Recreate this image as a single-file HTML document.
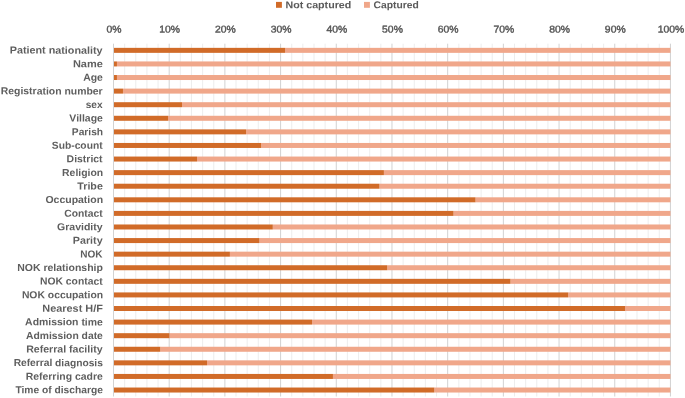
<!DOCTYPE html><html><head><meta charset="utf-8"><title>chart</title><style>html,body{margin:0;padding:0;background:#fff}svg{display:block}text{font-family:"Liberation Sans",sans-serif;text-rendering:geometricPrecision}</style></head><body>
<svg width="685" height="398" viewBox="0 0 685 398">
<rect width="685" height="398" fill="#fff"/>
<line x1="124.64" y1="43.7" x2="124.64" y2="396.5" stroke="#e9e9e9" stroke-width="0.8"/>
<line x1="135.78" y1="43.7" x2="135.78" y2="396.5" stroke="#e9e9e9" stroke-width="0.8"/>
<line x1="146.92" y1="43.7" x2="146.92" y2="396.5" stroke="#e9e9e9" stroke-width="0.8"/>
<line x1="158.06" y1="43.7" x2="158.06" y2="396.5" stroke="#e9e9e9" stroke-width="0.8"/>
<line x1="180.33" y1="43.7" x2="180.33" y2="396.5" stroke="#e9e9e9" stroke-width="0.8"/>
<line x1="191.47" y1="43.7" x2="191.47" y2="396.5" stroke="#e9e9e9" stroke-width="0.8"/>
<line x1="202.61" y1="43.7" x2="202.61" y2="396.5" stroke="#e9e9e9" stroke-width="0.8"/>
<line x1="213.75" y1="43.7" x2="213.75" y2="396.5" stroke="#e9e9e9" stroke-width="0.8"/>
<line x1="236.03" y1="43.7" x2="236.03" y2="396.5" stroke="#e9e9e9" stroke-width="0.8"/>
<line x1="247.17" y1="43.7" x2="247.17" y2="396.5" stroke="#e9e9e9" stroke-width="0.8"/>
<line x1="258.31" y1="43.7" x2="258.31" y2="396.5" stroke="#e9e9e9" stroke-width="0.8"/>
<line x1="269.45" y1="43.7" x2="269.45" y2="396.5" stroke="#e9e9e9" stroke-width="0.8"/>
<line x1="291.72" y1="43.7" x2="291.72" y2="396.5" stroke="#e9e9e9" stroke-width="0.8"/>
<line x1="302.86" y1="43.7" x2="302.86" y2="396.5" stroke="#e9e9e9" stroke-width="0.8"/>
<line x1="314.00" y1="43.7" x2="314.00" y2="396.5" stroke="#e9e9e9" stroke-width="0.8"/>
<line x1="325.14" y1="43.7" x2="325.14" y2="396.5" stroke="#e9e9e9" stroke-width="0.8"/>
<line x1="347.42" y1="43.7" x2="347.42" y2="396.5" stroke="#e9e9e9" stroke-width="0.8"/>
<line x1="358.56" y1="43.7" x2="358.56" y2="396.5" stroke="#e9e9e9" stroke-width="0.8"/>
<line x1="369.70" y1="43.7" x2="369.70" y2="396.5" stroke="#e9e9e9" stroke-width="0.8"/>
<line x1="380.84" y1="43.7" x2="380.84" y2="396.5" stroke="#e9e9e9" stroke-width="0.8"/>
<line x1="403.11" y1="43.7" x2="403.11" y2="396.5" stroke="#e9e9e9" stroke-width="0.8"/>
<line x1="414.25" y1="43.7" x2="414.25" y2="396.5" stroke="#e9e9e9" stroke-width="0.8"/>
<line x1="425.39" y1="43.7" x2="425.39" y2="396.5" stroke="#e9e9e9" stroke-width="0.8"/>
<line x1="436.53" y1="43.7" x2="436.53" y2="396.5" stroke="#e9e9e9" stroke-width="0.8"/>
<line x1="458.81" y1="43.7" x2="458.81" y2="396.5" stroke="#e9e9e9" stroke-width="0.8"/>
<line x1="469.95" y1="43.7" x2="469.95" y2="396.5" stroke="#e9e9e9" stroke-width="0.8"/>
<line x1="481.09" y1="43.7" x2="481.09" y2="396.5" stroke="#e9e9e9" stroke-width="0.8"/>
<line x1="492.23" y1="43.7" x2="492.23" y2="396.5" stroke="#e9e9e9" stroke-width="0.8"/>
<line x1="514.50" y1="43.7" x2="514.50" y2="396.5" stroke="#e9e9e9" stroke-width="0.8"/>
<line x1="525.64" y1="43.7" x2="525.64" y2="396.5" stroke="#e9e9e9" stroke-width="0.8"/>
<line x1="536.78" y1="43.7" x2="536.78" y2="396.5" stroke="#e9e9e9" stroke-width="0.8"/>
<line x1="547.92" y1="43.7" x2="547.92" y2="396.5" stroke="#e9e9e9" stroke-width="0.8"/>
<line x1="570.20" y1="43.7" x2="570.20" y2="396.5" stroke="#e9e9e9" stroke-width="0.8"/>
<line x1="581.34" y1="43.7" x2="581.34" y2="396.5" stroke="#e9e9e9" stroke-width="0.8"/>
<line x1="592.48" y1="43.7" x2="592.48" y2="396.5" stroke="#e9e9e9" stroke-width="0.8"/>
<line x1="603.62" y1="43.7" x2="603.62" y2="396.5" stroke="#e9e9e9" stroke-width="0.8"/>
<line x1="625.89" y1="43.7" x2="625.89" y2="396.5" stroke="#e9e9e9" stroke-width="0.8"/>
<line x1="637.03" y1="43.7" x2="637.03" y2="396.5" stroke="#e9e9e9" stroke-width="0.8"/>
<line x1="648.17" y1="43.7" x2="648.17" y2="396.5" stroke="#e9e9e9" stroke-width="0.8"/>
<line x1="659.31" y1="43.7" x2="659.31" y2="396.5" stroke="#e9e9e9" stroke-width="0.8"/>
<line x1="113.50" y1="43.7" x2="113.50" y2="396.5" stroke="#c6c6c6" stroke-width="0.8"/>
<line x1="169.19" y1="43.7" x2="169.19" y2="396.5" stroke="#c6c6c6" stroke-width="0.8"/>
<line x1="224.89" y1="43.7" x2="224.89" y2="396.5" stroke="#c6c6c6" stroke-width="0.8"/>
<line x1="280.59" y1="43.7" x2="280.59" y2="396.5" stroke="#c6c6c6" stroke-width="0.8"/>
<line x1="336.28" y1="43.7" x2="336.28" y2="396.5" stroke="#c6c6c6" stroke-width="0.8"/>
<line x1="391.98" y1="43.7" x2="391.98" y2="396.5" stroke="#c6c6c6" stroke-width="0.8"/>
<line x1="447.67" y1="43.7" x2="447.67" y2="396.5" stroke="#c6c6c6" stroke-width="0.8"/>
<line x1="503.37" y1="43.7" x2="503.37" y2="396.5" stroke="#c6c6c6" stroke-width="0.8"/>
<line x1="559.06" y1="43.7" x2="559.06" y2="396.5" stroke="#c6c6c6" stroke-width="0.8"/>
<line x1="614.75" y1="43.7" x2="614.75" y2="396.5" stroke="#c6c6c6" stroke-width="0.8"/>
<line x1="670.45" y1="43.7" x2="670.45" y2="396.5" stroke="#c6c6c6" stroke-width="0.8"/>
<rect x="285.04" y="47.85" width="385.41" height="5.0" fill="#f0a78a"/>
<rect x="114.00" y="47.85" width="171.04" height="5.0" fill="#d16b28"/>
<text transform="translate(102.60,53.65) scale(1.0577,1) rotate(0.03)" text-anchor="end" font-size="10.2" font-weight="bold" fill="#5e5e5e">Patient nationality</text>
<rect x="116.95" y="61.44" width="553.50" height="5.0" fill="#f0a78a"/>
<rect x="114.00" y="61.44" width="2.95" height="5.0" fill="#d16b28"/>
<text transform="translate(102.85,67.24) scale(1.0783,1) rotate(0.03)" text-anchor="end" font-size="10.2" font-weight="bold" fill="#5e5e5e">Name</text>
<rect x="116.95" y="75.02" width="553.50" height="5.0" fill="#f0a78a"/>
<rect x="114.00" y="75.02" width="2.95" height="5.0" fill="#d16b28"/>
<text transform="translate(102.85,80.82) scale(1.0238,1) rotate(0.03)" text-anchor="end" font-size="10.2" font-weight="bold" fill="#5e5e5e">Age</text>
<rect x="122.97" y="88.61" width="547.48" height="5.0" fill="#f0a78a"/>
<rect x="114.00" y="88.61" width="8.97" height="5.0" fill="#d16b28"/>
<text transform="translate(102.60,94.41) scale(1.0224,1) rotate(0.03)" text-anchor="end" font-size="10.2" font-weight="bold" fill="#5e5e5e">Registration number</text>
<rect x="182.00" y="102.20" width="488.45" height="5.0" fill="#f0a78a"/>
<rect x="114.00" y="102.20" width="68.00" height="5.0" fill="#d16b28"/>
<text transform="translate(102.60,108.00) scale(0.9947,1) rotate(0.03)" text-anchor="end" font-size="10.2" font-weight="bold" fill="#5e5e5e">sex</text>
<rect x="168.08" y="115.78" width="502.37" height="5.0" fill="#f0a78a"/>
<rect x="114.00" y="115.78" width="54.08" height="5.0" fill="#d16b28"/>
<text transform="translate(102.85,121.58) scale(1.0249,1) rotate(0.03)" text-anchor="end" font-size="10.2" font-weight="bold" fill="#5e5e5e">Village</text>
<rect x="246.05" y="129.37" width="424.40" height="5.0" fill="#f0a78a"/>
<rect x="114.00" y="129.37" width="132.05" height="5.0" fill="#d16b28"/>
<text transform="translate(103.10,135.17) scale(1.0028,1) rotate(0.03)" text-anchor="end" font-size="10.2" font-weight="bold" fill="#5e5e5e">Parish</text>
<rect x="261.09" y="142.96" width="409.36" height="5.0" fill="#f0a78a"/>
<rect x="114.00" y="142.96" width="147.09" height="5.0" fill="#d16b28"/>
<text transform="translate(102.60,148.76) scale(1.0074,1) rotate(0.03)" text-anchor="end" font-size="10.2" font-weight="bold" fill="#5e5e5e">Sub-count</text>
<rect x="197.04" y="156.55" width="473.41" height="5.0" fill="#f0a78a"/>
<rect x="114.00" y="156.55" width="83.04" height="5.0" fill="#d16b28"/>
<text transform="translate(102.60,162.35) scale(1.0247,1) rotate(0.03)" text-anchor="end" font-size="10.2" font-weight="bold" fill="#5e5e5e">District</text>
<rect x="383.90" y="170.13" width="286.55" height="5.0" fill="#f0a78a"/>
<rect x="114.00" y="170.13" width="269.90" height="5.0" fill="#d16b28"/>
<text transform="translate(103.10,175.93) scale(1.0199,1) rotate(0.03)" text-anchor="end" font-size="10.2" font-weight="bold" fill="#5e5e5e">Religion</text>
<rect x="379.44" y="183.72" width="291.01" height="5.0" fill="#f0a78a"/>
<rect x="114.00" y="183.72" width="265.44" height="5.0" fill="#d16b28"/>
<text transform="translate(102.85,189.52) scale(1.0490,1) rotate(0.03)" text-anchor="end" font-size="10.2" font-weight="bold" fill="#5e5e5e">Tribe</text>
<rect x="475.52" y="197.31" width="194.93" height="5.0" fill="#f0a78a"/>
<rect x="114.00" y="197.31" width="361.52" height="5.0" fill="#d16b28"/>
<text transform="translate(103.10,203.11) scale(1.0295,1) rotate(0.03)" text-anchor="end" font-size="10.2" font-weight="bold" fill="#5e5e5e">Occupation</text>
<rect x="453.52" y="210.89" width="216.93" height="5.0" fill="#f0a78a"/>
<rect x="114.00" y="210.89" width="339.52" height="5.0" fill="#d16b28"/>
<text transform="translate(102.60,216.69) scale(1.0129,1) rotate(0.03)" text-anchor="end" font-size="10.2" font-weight="bold" fill="#5e5e5e">Contact</text>
<rect x="272.79" y="224.48" width="397.66" height="5.0" fill="#f0a78a"/>
<rect x="114.00" y="224.48" width="158.79" height="5.0" fill="#d16b28"/>
<text transform="translate(102.60,230.28) scale(1.0311,1) rotate(0.03)" text-anchor="end" font-size="10.2" font-weight="bold" fill="#5e5e5e">Gravidity</text>
<rect x="259.42" y="238.07" width="411.03" height="5.0" fill="#f0a78a"/>
<rect x="114.00" y="238.07" width="145.42" height="5.0" fill="#d16b28"/>
<text transform="translate(102.60,243.87) scale(1.0518,1) rotate(0.03)" text-anchor="end" font-size="10.2" font-weight="bold" fill="#5e5e5e">Parity</text>
<rect x="229.90" y="251.66" width="440.55" height="5.0" fill="#f0a78a"/>
<rect x="114.00" y="251.66" width="115.90" height="5.0" fill="#d16b28"/>
<text transform="translate(102.60,257.45) scale(0.9841,1) rotate(0.03)" text-anchor="end" font-size="10.2" font-weight="bold" fill="#5e5e5e">NOK</text>
<rect x="387.24" y="265.24" width="283.21" height="5.0" fill="#f0a78a"/>
<rect x="114.00" y="265.24" width="273.24" height="5.0" fill="#d16b28"/>
<text transform="translate(102.85,271.04) scale(1.0284,1) rotate(0.03)" text-anchor="end" font-size="10.2" font-weight="bold" fill="#5e5e5e">NOK relationship</text>
<rect x="510.49" y="278.83" width="159.96" height="5.0" fill="#f0a78a"/>
<rect x="114.00" y="278.83" width="396.49" height="5.0" fill="#d16b28"/>
<text transform="translate(102.60,284.63) scale(1.0141,1) rotate(0.03)" text-anchor="end" font-size="10.2" font-weight="bold" fill="#5e5e5e">NOK contact</text>
<rect x="568.25" y="292.42" width="102.20" height="5.0" fill="#f0a78a"/>
<rect x="114.00" y="292.42" width="454.25" height="5.0" fill="#d16b28"/>
<text transform="translate(103.10,298.22) scale(1.0176,1) rotate(0.03)" text-anchor="end" font-size="10.2" font-weight="bold" fill="#5e5e5e">NOK occupation</text>
<rect x="625.06" y="306.00" width="45.39" height="5.0" fill="#f0a78a"/>
<rect x="114.00" y="306.00" width="511.06" height="5.0" fill="#d16b28"/>
<text transform="translate(102.85,311.80) scale(1.0684,1) rotate(0.03)" text-anchor="end" font-size="10.2" font-weight="bold" fill="#5e5e5e">Nearest H/F</text>
<rect x="312.05" y="319.59" width="358.40" height="5.0" fill="#f0a78a"/>
<rect x="114.00" y="319.59" width="198.05" height="5.0" fill="#d16b28"/>
<text transform="translate(102.85,325.39) scale(1.0246,1) rotate(0.03)" text-anchor="end" font-size="10.2" font-weight="bold" fill="#5e5e5e">Admission time</text>
<rect x="169.47" y="333.18" width="500.98" height="5.0" fill="#f0a78a"/>
<rect x="114.00" y="333.18" width="55.47" height="5.0" fill="#d16b28"/>
<text transform="translate(102.85,338.98) scale(1.0139,1) rotate(0.03)" text-anchor="end" font-size="10.2" font-weight="bold" fill="#5e5e5e">Admission date</text>
<rect x="160.28" y="346.76" width="510.17" height="5.0" fill="#f0a78a"/>
<rect x="114.00" y="346.76" width="46.28" height="5.0" fill="#d16b28"/>
<text transform="translate(102.60,352.56) scale(1.0381,1) rotate(0.03)" text-anchor="end" font-size="10.2" font-weight="bold" fill="#5e5e5e">Referral facility</text>
<rect x="207.07" y="360.35" width="463.38" height="5.0" fill="#f0a78a"/>
<rect x="114.00" y="360.35" width="93.07" height="5.0" fill="#d16b28"/>
<text transform="translate(102.85,366.15) scale(1.0037,1) rotate(0.03)" text-anchor="end" font-size="10.2" font-weight="bold" fill="#5e5e5e">Referral diagnosis</text>
<rect x="332.94" y="373.94" width="337.51" height="5.0" fill="#f0a78a"/>
<rect x="114.00" y="373.94" width="218.94" height="5.0" fill="#d16b28"/>
<text transform="translate(102.85,379.74) scale(1.0247,1) rotate(0.03)" text-anchor="end" font-size="10.2" font-weight="bold" fill="#5e5e5e">Referring cadre</text>
<rect x="434.30" y="387.53" width="236.15" height="5.0" fill="#f0a78a"/>
<rect x="114.00" y="387.53" width="320.30" height="5.0" fill="#d16b28"/>
<text transform="translate(102.85,393.33) scale(1.0050,1) rotate(0.03)" text-anchor="end" font-size="10.2" font-weight="bold" fill="#5e5e5e">Time of discharge</text>
<text transform="translate(114.00,32.4) scale(1.06,1) rotate(0.03)" text-anchor="middle" font-size="9.8" fill="#555" stroke="#555" stroke-width="0.4">0%</text>
<text transform="translate(169.69,32.4) scale(1.06,1) rotate(0.03)" text-anchor="middle" font-size="9.8" fill="#555" stroke="#555" stroke-width="0.4">10%</text>
<text transform="translate(225.39,32.4) scale(1.06,1) rotate(0.03)" text-anchor="middle" font-size="9.8" fill="#555" stroke="#555" stroke-width="0.4">20%</text>
<text transform="translate(281.09,32.4) scale(1.06,1) rotate(0.03)" text-anchor="middle" font-size="9.8" fill="#555" stroke="#555" stroke-width="0.4">30%</text>
<text transform="translate(336.78,32.4) scale(1.06,1) rotate(0.03)" text-anchor="middle" font-size="9.8" fill="#555" stroke="#555" stroke-width="0.4">40%</text>
<text transform="translate(392.48,32.4) scale(1.06,1) rotate(0.03)" text-anchor="middle" font-size="9.8" fill="#555" stroke="#555" stroke-width="0.4">50%</text>
<text transform="translate(448.17,32.4) scale(1.06,1) rotate(0.03)" text-anchor="middle" font-size="9.8" fill="#555" stroke="#555" stroke-width="0.4">60%</text>
<text transform="translate(503.87,32.4) scale(1.06,1) rotate(0.03)" text-anchor="middle" font-size="9.8" fill="#555" stroke="#555" stroke-width="0.4">70%</text>
<text transform="translate(559.56,32.4) scale(1.06,1) rotate(0.03)" text-anchor="middle" font-size="9.8" fill="#555" stroke="#555" stroke-width="0.4">80%</text>
<text transform="translate(615.25,32.4) scale(1.06,1) rotate(0.03)" text-anchor="middle" font-size="9.8" fill="#555" stroke="#555" stroke-width="0.4">90%</text>
<text transform="translate(670.95,32.4) scale(1.06,1) rotate(0.03)" text-anchor="middle" font-size="9.8" fill="#555" stroke="#555" stroke-width="0.4">100%</text>
<rect x="276.0" y="1.9" width="5.9" height="5.9" fill="#d16b28"/>
<text transform="translate(285.45,8.2) scale(1.0672,1) rotate(0.03)" font-size="10.0" font-weight="bold" fill="#5a5a5a">Not captured</text>
<rect x="364.0" y="1.9" width="5.9" height="5.9" fill="#f0a78a"/>
<text transform="translate(373.55,8.2) scale(1.0316,1) rotate(0.03)" font-size="10.0" font-weight="bold" fill="#5a5a5a">Captured</text>
</svg></body></html>
